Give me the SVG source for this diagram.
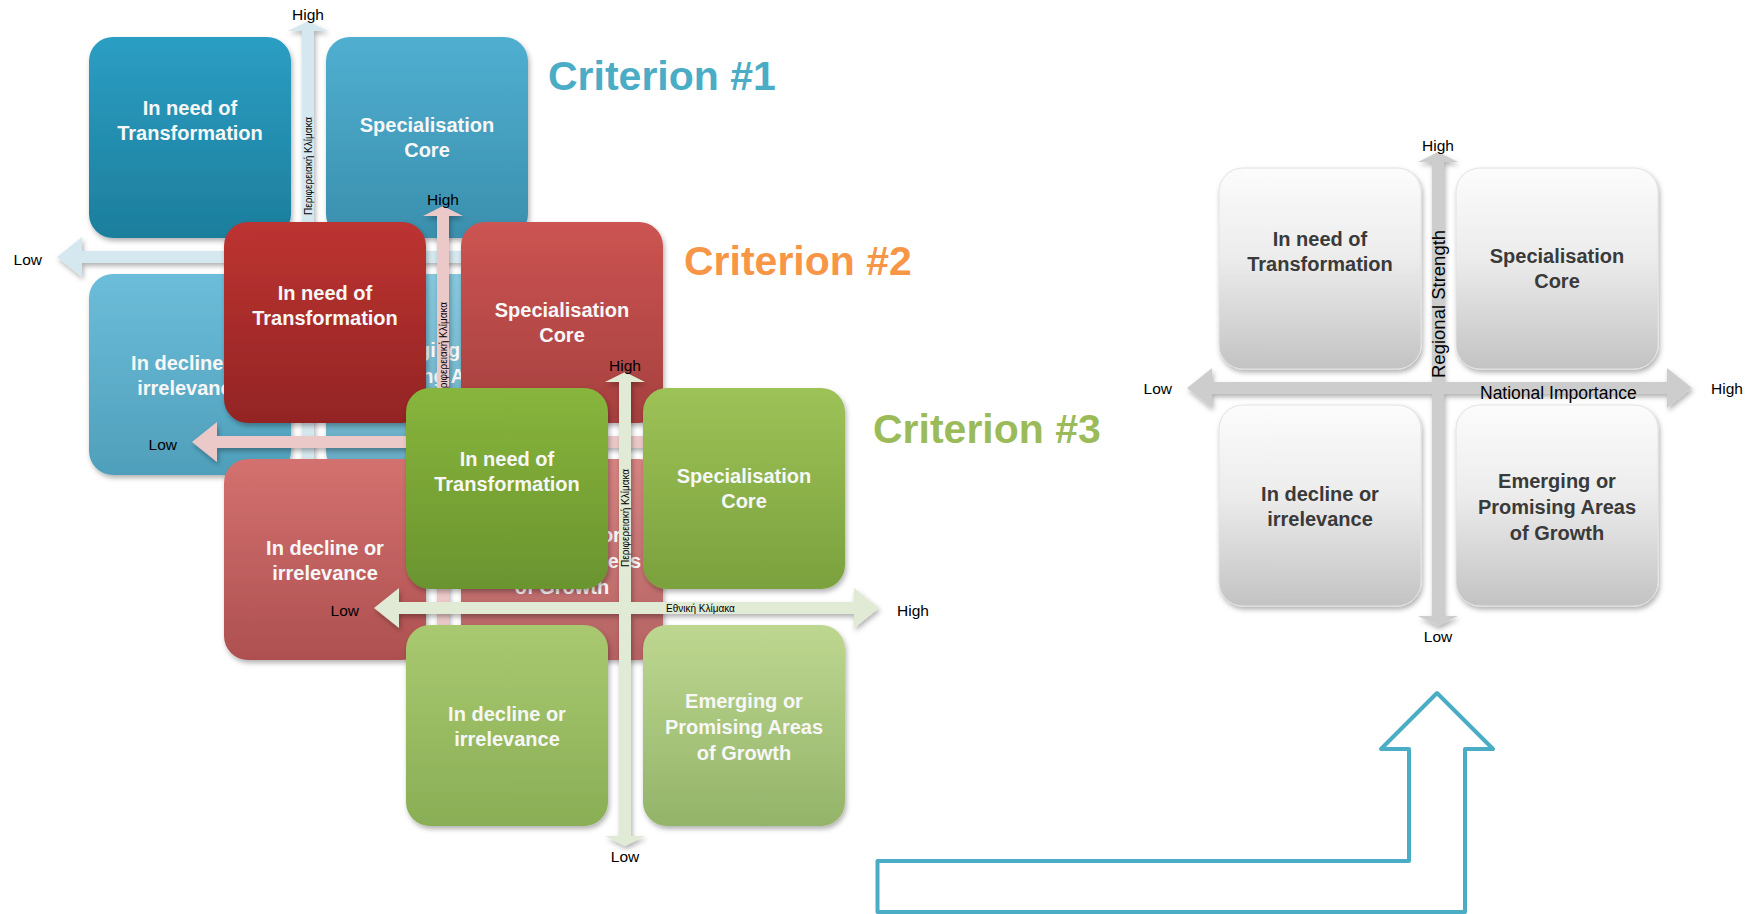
<svg xmlns="http://www.w3.org/2000/svg" width="1764" height="914" viewBox="0 0 1764 914">
<defs>
<style>
.lbl{font-family:"Liberation Sans",Arial,sans-serif;font-size:15.5px;fill:#000}
.bt{font-family:"Liberation Sans",Arial,sans-serif;font-size:20px;font-weight:bold;text-anchor:middle}
.wt{fill:#f7f7f7}
.dt{fill:#3a3a3a}
.gr{font-family:"Liberation Sans",Arial,sans-serif;font-size:10px;fill:#000}
.title{font-family:"Liberation Sans",Arial,sans-serif;font-size:41px;font-weight:bold}
.box{filter:url(#sh)}
.ax{filter:url(#sh)}
</style>
<filter id="sh" x="-15%" y="-15%" width="135%" height="135%">
<feDropShadow dx="1.5" dy="3" stdDeviation="2.5" flood-color="#000" flood-opacity="0.3"/>
</filter>
<linearGradient id="b1" x1="0" y1="0" x2="0" y2="1"><stop offset="0" stop-color="#2b9ec3"/><stop offset="1" stop-color="#1d7e9c"/></linearGradient>
<linearGradient id="b2" x1="0" y1="0" x2="0" y2="1"><stop offset="0" stop-color="#50afd1"/><stop offset="1" stop-color="#3a8fad"/></linearGradient>
<linearGradient id="b3" x1="0" y1="0" x2="0" y2="1"><stop offset="0" stop-color="#6cbdd9"/><stop offset="1" stop-color="#4f9fbb"/></linearGradient>
<linearGradient id="b4" x1="0" y1="0" x2="0" y2="1"><stop offset="0" stop-color="#86c8de"/><stop offset="1" stop-color="#66aac3"/></linearGradient>
<linearGradient id="r1" x1="0" y1="0" x2="0" y2="1"><stop offset="0" stop-color="#bd3431"/><stop offset="1" stop-color="#932424"/></linearGradient>
<linearGradient id="r2" x1="0" y1="0" x2="0" y2="1"><stop offset="0" stop-color="#cc5452"/><stop offset="1" stop-color="#a5403f"/></linearGradient>
<linearGradient id="r3" x1="0" y1="0" x2="0" y2="1"><stop offset="0" stop-color="#d3716f"/><stop offset="1" stop-color="#ae5050"/></linearGradient>
<linearGradient id="r4" x1="0" y1="0" x2="0" y2="1"><stop offset="0" stop-color="#d68482"/><stop offset="1" stop-color="#b56262"/></linearGradient>
<linearGradient id="g1" x1="0" y1="0" x2="0" y2="1"><stop offset="0" stop-color="#88b53c"/><stop offset="1" stop-color="#6a942f"/></linearGradient>
<linearGradient id="g2" x1="0" y1="0" x2="0" y2="1"><stop offset="0" stop-color="#9dc257"/><stop offset="1" stop-color="#7ba13e"/></linearGradient>
<linearGradient id="g3" x1="0" y1="0" x2="0" y2="1"><stop offset="0" stop-color="#a9c970"/><stop offset="1" stop-color="#89ae55"/></linearGradient>
<linearGradient id="g4" x1="0" y1="0" x2="0" y2="1"><stop offset="0" stop-color="#bed790"/><stop offset="1" stop-color="#93b469"/></linearGradient>
<linearGradient id="gy" x1="0" y1="0" x2="0" y2="1"><stop offset="0" stop-color="#fcfcfc"/><stop offset="0.45" stop-color="#ececec"/><stop offset="1" stop-color="#c3c3c3"/></linearGradient>
<path id="hax" d="M -251 0 L -226 -20 L -226 -6 L 229 -6 L 229 -20 L 254 0 L 229 20 L 229 6 L -226 6 L -226 20 Z"/>
<path id="vax" d="M 0 -236 L 20 -226 L 6 -226 L 6 228 L 20 228 L 0 238 L -20 228 L -6 228 L -6 -226 L -20 -226 Z"/>
</defs>
<rect width="1764" height="914" fill="#ffffff"/>

<!-- Criterion 1 (blue) -->
<g id="criterion1" transform="translate(308,257)">
  <g id="c1-axes" class="ax" fill="#d6e8ef">
    <use href="#hax"/>
    <use href="#vax"/>
  </g>
  <g id="c1-axis-labels">
    <text class="lbl" x="0" y="-237" text-anchor="middle">High</text>
    <text class="lbl" x="-266" y="8" text-anchor="end">Low</text>
    <text class="gr" transform="translate(3.5,-42) rotate(-90)">Περιφερειακή Κλίμακα</text>
  </g>
  <g id="c1-tl"><rect class="box" x="-219" y="-220" width="202" height="201" rx="24" fill="url(#b1)"/>
    <text class="bt wt" x="-118" y="-142">In need of</text><text class="bt wt" x="-118" y="-117">Transformation</text></g>
  <g id="c1-tr"><rect class="box" x="18" y="-220" width="202" height="201" rx="24" fill="url(#b2)"/>
    <text class="bt wt" x="119" y="-125">Specialisation</text><text class="bt wt" x="119" y="-100">Core</text></g>
  <g id="c1-bl"><rect class="box" x="-219" y="17" width="202" height="201" rx="24" fill="url(#b3)"/>
    <text class="bt wt" x="-118" y="113">In decline or</text><text class="bt wt" x="-118" y="138">irrelevance</text></g>
  <g id="c1-br"><rect class="box" x="18" y="17" width="202" height="201" rx="24" fill="url(#b4)"/>
    <text class="bt wt" x="119" y="100">Emerging or</text><text class="bt wt" x="119" y="126">Promising Areas</text><text class="bt wt" x="119" y="152">of Growth</text></g>
</g>

<!-- Criterion 2 (red) -->
<g id="criterion2" transform="translate(443,442)">
  <g id="c2-axes" class="ax" fill="#ecc9c9">
    <use href="#hax"/>
    <use href="#vax"/>
  </g>
  <g id="c2-axis-labels">
    <text class="lbl" x="0" y="-237" text-anchor="middle">High</text>
    <text class="lbl" x="-266" y="8" text-anchor="end">Low</text>
    <text class="gr" transform="translate(3.5,-42) rotate(-90)">Περιφερειακή Κλίμακα</text>
  </g>
  <g id="c2-tl"><rect class="box" x="-219" y="-220" width="202" height="201" rx="24" fill="url(#r1)"/>
    <text class="bt wt" x="-118" y="-142">In need of</text><text class="bt wt" x="-118" y="-117">Transformation</text></g>
  <g id="c2-tr"><rect class="box" x="18" y="-220" width="202" height="201" rx="24" fill="url(#r2)"/>
    <text class="bt wt" x="119" y="-125">Specialisation</text><text class="bt wt" x="119" y="-100">Core</text></g>
  <g id="c2-bl"><rect class="box" x="-219" y="17" width="202" height="201" rx="24" fill="url(#r3)"/>
    <text class="bt wt" x="-118" y="113">In decline or</text><text class="bt wt" x="-118" y="138">irrelevance</text></g>
  <g id="c2-br"><rect class="box" x="18" y="17" width="202" height="201" rx="24" fill="url(#r4)"/>
    <text class="bt wt" x="119" y="100">Emerging or</text><text class="bt wt" x="119" y="126">Promising Areas</text><text class="bt wt" x="119" y="152">of Growth</text></g>
</g>

<!-- Criterion 3 (green) -->
<g id="criterion3" transform="translate(625,608)">
  <g id="c3-axes" class="ax" fill="#e1ead4">
    <use href="#hax"/>
    <use href="#vax"/>
  </g>
  <g id="c3-tl"><rect class="box" x="-219" y="-220" width="202" height="201" rx="24" fill="url(#g1)"/>
    <text class="bt wt" x="-118" y="-142">In need of</text><text class="bt wt" x="-118" y="-117">Transformation</text></g>
  <g id="c3-tr"><rect class="box" x="18" y="-220" width="202" height="201" rx="24" fill="url(#g2)"/>
    <text class="bt wt" x="119" y="-125">Specialisation</text><text class="bt wt" x="119" y="-100">Core</text></g>
  <g id="c3-bl"><rect class="box" x="-219" y="17" width="202" height="201" rx="24" fill="url(#g3)"/>
    <text class="bt wt" x="-118" y="113">In decline or</text><text class="bt wt" x="-118" y="138">irrelevance</text></g>
  <g id="c3-br"><rect class="box" x="18" y="17" width="202" height="201" rx="24" fill="url(#g4)"/>
    <text class="bt wt" x="119" y="100">Emerging or</text><text class="bt wt" x="119" y="126">Promising Areas</text><text class="bt wt" x="119" y="152">of Growth</text></g>
  <g id="c3-axis-labels">
    <text class="lbl" x="0" y="-237" text-anchor="middle">High</text>
    <text class="lbl" x="0" y="254" text-anchor="middle">Low</text>
    <text class="lbl" x="-266" y="8" text-anchor="end">Low</text>
    <text class="lbl" x="272" y="8">High</text>
    <text class="gr" transform="translate(3.5,-41) rotate(-90)">Περιφερειακή Κλίμακα</text>
    <text class="gr" x="41" y="4">Εθνική Κλίμακα</text>
  </g>
</g>

<!-- Titles -->
<g id="titles">
  <text class="title" x="548" y="90" fill="#4bacc6">Criterion #1</text>
  <text class="title" x="684" y="275" fill="#f79646">Criterion #2</text>
  <text class="title" x="873" y="443" fill="#9bbb59">Criterion #3</text>
</g>

<!-- Summary matrix (gray) -->
<g id="summary" transform="translate(1438,388)">
  <g id="s-axes" class="ax" fill="#cdcdcd">
    <use href="#hax"/>
    <use href="#vax"/>
  </g>
  <g id="s-tl"><rect class="box" x="-219" y="-220" width="202" height="201" rx="24" fill="url(#gy)" stroke="#e2e2e2"/>
    <text class="bt dt" x="-118" y="-142">In need of</text><text class="bt dt" x="-118" y="-117">Transformation</text></g>
  <g id="s-tr"><rect class="box" x="18" y="-220" width="202" height="201" rx="24" fill="url(#gy)" stroke="#e2e2e2"/>
    <text class="bt dt" x="119" y="-125">Specialisation</text><text class="bt dt" x="119" y="-100">Core</text></g>
  <g id="s-bl"><rect class="box" x="-219" y="17" width="202" height="201" rx="24" fill="url(#gy)" stroke="#e2e2e2"/>
    <text class="bt dt" x="-118" y="113">In decline or</text><text class="bt dt" x="-118" y="138">irrelevance</text></g>
  <g id="s-br"><rect class="box" x="18" y="17" width="202" height="201" rx="24" fill="url(#gy)" stroke="#e2e2e2"/>
    <text class="bt dt" x="119" y="100">Emerging or</text><text class="bt dt" x="119" y="126">Promising Areas</text><text class="bt dt" x="119" y="152">of Growth</text></g>
  <g id="s-axis-labels">
    <text class="lbl" x="0" y="-237" text-anchor="middle">High</text>
    <text class="lbl" x="0" y="254" text-anchor="middle">Low</text>
    <text class="lbl" x="-266" y="6" text-anchor="end">Low</text>
    <text class="lbl" x="273" y="6">High</text>
    <text class="lbl" style="font-size:18.5px" transform="translate(7,-10) rotate(-90)">Regional Strength</text>
    <text class="lbl" style="font-size:17.5px" x="42" y="11">National Importance</text>
  </g>
</g>

<!-- Bent arrow -->
<g id="connectors">
  <path id="bent-arrow" d="M 877.5 912 L 877.5 861 L 1409 861 L 1409 749 L 1381 749 L 1437 693 L 1493 749 L 1465 749 L 1465 912 Z" fill="none" stroke="#4bacc6" stroke-width="4" stroke-linejoin="round"/>
</g>
</svg>
